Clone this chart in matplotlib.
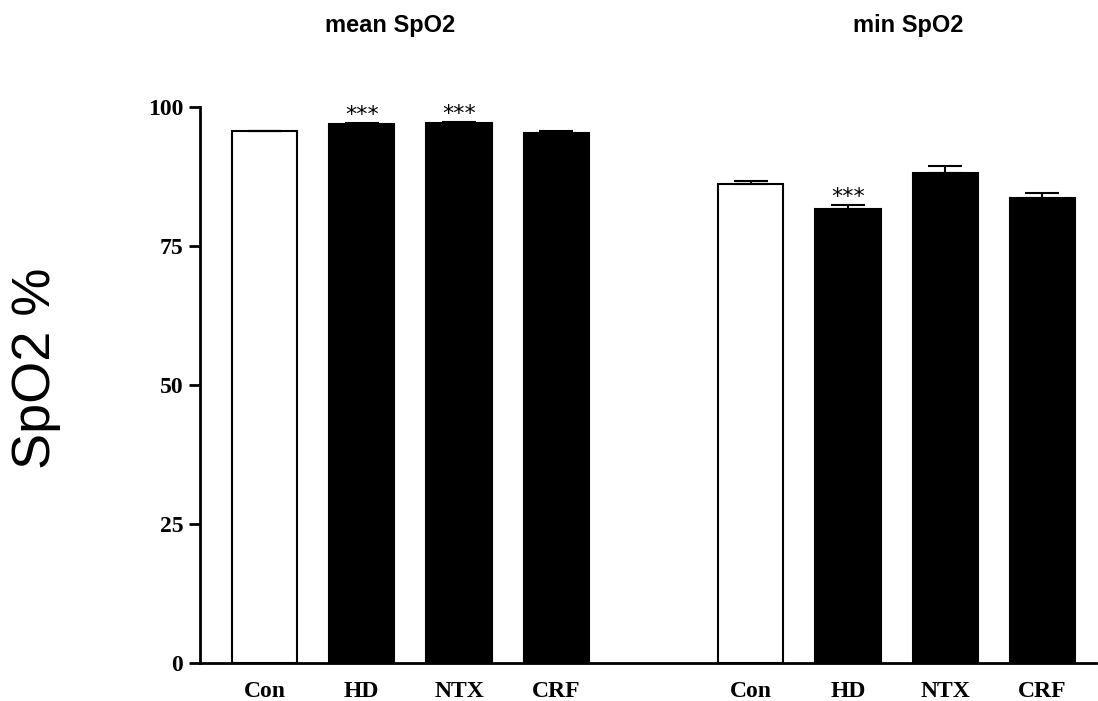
import matplotlib
matplotlib.use("Agg")
import matplotlib.pyplot as plt

# values
groups = ["mean SpO2", "min SpO2"]
categories = ["Con", "HD", "NTX", "CRF"]
mean_vals = [95.6, 96.9, 97.2, 95.4]
mean_err = [0.1, 0.25, 0.1, 0.25]
min_vals = [86.1, 81.7, 88.2, 83.6]
min_err = [0.6, 0.7, 1.1, 0.9]
mean_sig = ["", "***", "***", ""]
min_sig = ["", "***", "", ""]
fills = ["white", "black", "black", "black"]
yticks = [0, 25, 50, 75, 100]

fig = plt.figure(figsize=(10.98, 7.01), dpi=100)
ax = fig.add_axes([0.1821, 0.0542, 0.816, 0.7932])

tick_font = {"family": "Liberation Serif", "weight": "bold", "size": 17}

positions = []
labels = []
series = [(mean_vals, mean_err, mean_sig), (min_vals, min_err, min_sig)]
for g, (vals, errs, sig) in enumerate(series):
    xs = [g * 5 + i for i in range(len(categories))]
    ax.bar(xs, vals, width=0.67, color=fills, edgecolor="black", linewidth=1.5, zorder=2)
    ax.errorbar(xs, vals, yerr=[[0] * len(errs), errs], fmt="none", ecolor="black",
                elinewidth=1.5, capsize=12, capthick=1.5, zorder=3)
    for x, v, e, s in zip(xs, vals, errs, sig):
        if s:
            ax.text(x, v + e + 0.3, s, ha="center", va="baseline", fontsize=16,
                    family="DejaVu Sans", clip_on=False)
    positions += xs
    labels += categories

ax.set_xlim(-0.664, 8.55)
ax.set_ylim(0, 100)
ax.set_xticks(positions)
ax.set_xticklabels(labels, fontdict=tick_font)
ax.set_yticks(yticks)
ax.set_yticklabels([str(t) for t in yticks], fontdict=tick_font)
ax.tick_params(axis="x", length=0, pad=13)
ax.tick_params(axis="y", length=8, width=2, direction="out", pad=4)

for spine in ("top", "right"):
    ax.spines[spine].set_visible(False)
ax.spines["left"].set_linewidth(2)
ax.spines["bottom"].set_linewidth(2)

fig.text(36 / 1098, 1 - 368 / 701, "SpO2 %", rotation=90, ha="center", va="center",
         fontsize=39, family="Liberation Sans")

# group titles, placed above each group of bars
for xc, name in zip([1.29, 6.62], groups):
    fx = fig.transFigure.inverted().transform(ax.transData.transform((xc, 0)))[0]
    fig.text(fx, 1 - 32 / 701, name, ha="center", va="baseline",
             fontsize=17, fontweight="bold", family="Liberation Sans")

fig.savefig("out.png", dpi=100, facecolor="white")
